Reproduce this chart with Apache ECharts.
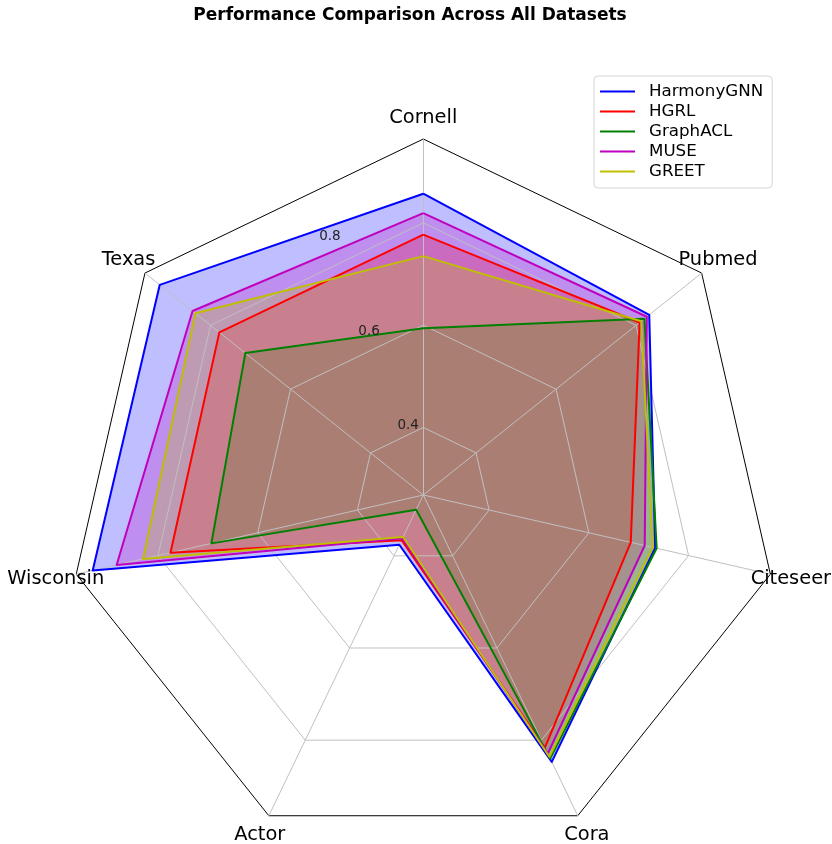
<!DOCTYPE html>
<html>
<head>
<meta charset="utf-8">
<script src="https://cdn.jsdelivr.net/npm/echarts@6/dist/echarts.min.js"></script>
<style>html,body{margin:0;padding:0;background:#fff}#chart{width:832px;height:844px}</style>
</head>
<body>
<div id="chart"></div>
<script>
// ---- data ----
const chartTitle = 'Performance Comparison Across All Datasets';
// counter-clockwise from the top
const categories = ['Cornell', 'Texas', 'Wisconsin', 'Actor', 'Cora', 'Citeseer', 'Pubmed'];
const seriesNames = ['HarmonyGNN', 'HGRL', 'GraphACL', 'MUSE', 'GREET'];
const harmonyGNN = [0.857, 0.927, 0.931, 0.376, 0.847, 0.733, 0.833];
const hgrl       = [0.777, 0.778, 0.775, 0.366, 0.816, 0.684, 0.809];
const graphACL   = [0.594, 0.713, 0.693, 0.300, 0.840, 0.736, 0.821];
const muse       = [0.819, 0.845, 0.883, 0.362, 0.829, 0.712, 0.827];
const greet      = [0.735, 0.838, 0.830, 0.359, 0.836, 0.728, 0.813];
const radialTicks = [0.4, 0.6, 0.8];
const tickLabels = ['0.4', '0.6', '0.8'];
const rMin = 0.268;
const rMax = 0.964;

// ---- styles ----
const seriesValues = [harmonyGNN, hgrl, graphACL, muse, greet];
const colors = ['#0000ff', '#ff0000', '#008000', '#bf00bf', '#bfbf00'];
const step = 0.004;
const nSplit = Math.round((rMax - rMin) / step);
const ringColors = [];
for (let i = 0; i <= nSplit; i++) {
  const v = rMin + i * step;
  if (i === nSplit) ringColors.push('#000000');
  else if (radialTicks.some(t => Math.abs(t - v) < step / 2)) ringColors.push('#c0c0c0');
  else ringColors.push('rgba(0,0,0,0)');
}
const FONT = 'DejaVu Sans';
const CX = 423.3, CY = 495, R = 356;

const fillSeries = seriesNames.map((n, i) => ({
  type: 'radar', radarIndex: 0, name: n, z: 1,
  symbol: 'none',
  lineStyle: {color: colors[i], width: 0, opacity: 0},
  itemStyle: {color: colors[i]},
  areaStyle: {color: colors[i], opacity: 0.25},
  data: [{name: n, value: seriesValues[i]}]
}));
const lineSeries = seriesNames.map((n, i) => ({
  type: 'radar', radarIndex: 0, name: n, z: 3,
  symbol: 'none',
  lineStyle: {color: colors[i], width: 2},
  itemStyle: {color: colors[i]},
  data: [{name: n, value: seriesValues[i]}]
}));

const chart = echarts.init(document.getElementById('chart'), null, {renderer: 'canvas'});
chart.setOption({
  animation: false,
  backgroundColor: '#ffffff',
  title: {
    text: chartTitle, left: 410, top: 7, padding: 0, textAlign: 'center',
    textStyle: {fontFamily: FONT, fontWeight: 'bold', fontSize: 17, color: '#000'}
  },
  legend: {
    orient: 'vertical', left: 594, top: 76, z: 10,
    data: seriesNames,
    icon: 'rect', itemWidth: 35, itemHeight: 2, itemGap: 3,
    padding: [7, 9, 8, 6],
    backgroundColor: '#ffffff', borderColor: '#d4d4d4', borderWidth: 1, borderRadius: 4,
    textStyle: {fontFamily: FONT, fontSize: 16.7, color: '#000', lineHeight: 17, padding: [0, 0, 0, 9]}
  },
  radar: [{
    z: 2,
    center: [CX, CY], radius: R, startAngle: 90,
    shape: 'polygon', splitNumber: nSplit,
    indicator: categories.map(c => ({name: c, min: rMin, max: rMax})),
    nameGap: 21,
    axisName: {color: '#000', fontSize: 19.4, fontFamily: FONT, align: 'center', verticalAlign: 'middle'},
    axisLine: {lineStyle: {color: '#c0c0c0', width: 1}},
    splitLine: {lineStyle: {color: ringColors, width: 1}},
    splitArea: {show: false},
    axisTick: {show: false},
    axisLabel: {show: false}
  }, {
    z: 5,
    center: [CX, CY], radius: R, startAngle: 112.5,
    shape: 'polygon', splitNumber: nSplit,
    indicator: [{name: '', min: rMin, max: rMax}],
    axisName: {show: false},
    axisLine: {show: false},
    splitLine: {show: false},
    splitArea: {show: false},
    axisTick: {show: false},
    axisLabel: {
      show: true, margin: 0, align: 'left', verticalAlign: 'bottom',
      fontFamily: FONT, fontSize: 13.5, color: '#222',
      formatter: function (v) {
        const k = radialTicks.findIndex(t => Math.abs(t - v) < step / 2);
        return k >= 0 ? tickLabels[k] : '';
      }
    }
  }],
  series: fillSeries.concat(lineSeries)
});
</script>
</body>
</html>
